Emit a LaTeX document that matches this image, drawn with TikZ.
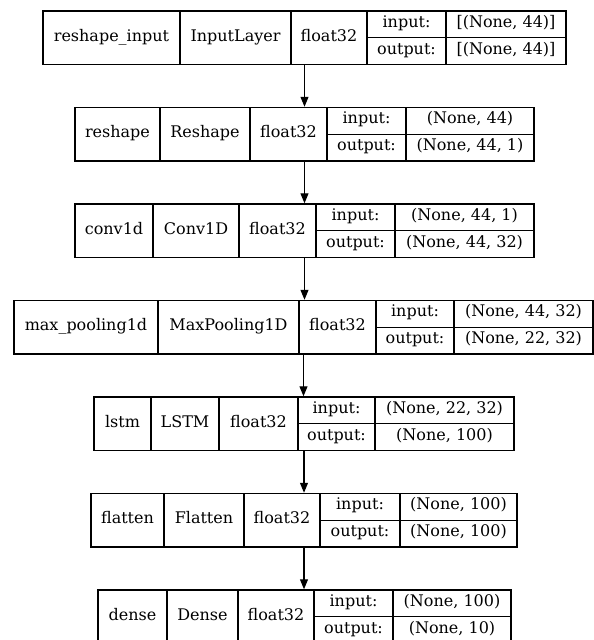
\documentclass[tikz,border=0pt]{standalone}
\usepackage{fontspec}
\setmainfont{DejaVu Serif}
\usetikzlibrary{arrows.meta,fit}

\begin{document}
\begin{tikzpicture}[
    x=1pt,y=-1pt,
    cell/.style={draw,line width=1.1pt,minimum height=53.5pt,inner sep=0pt,
      font=\fontsize{16}{19}\selectfont,text height=0.68em,text depth=0pt},
    half/.style={cell,minimum height=26.75pt,text height=0.6em},
    arrow/.style={-{Triangle[length=10pt,width=8pt]},line width=1.1pt}
  ]
    \clip (0,0) rectangle (594,640);
    % one record per layer: name | type | dtype | {input:|output:} | {shapes}
    \foreach \k/\a/\b/\c/\d/\e/\f/\nm/\ty/\vi/\vo in {
        {1/43/180/291/367/446/566/reshape\_input/InputLayer/[(None, 44)]/[(None, 44)]},
        {2/75/160/250/327/406/534/reshape/Reshape/(None, 44)/(None, 44, 1)},
        {3/75/153/239/316/395/534/conv1d/Conv1D/(None, 44, 1)/(None, 44, 32)},
        {4/14/158/299/376/454/593/max\_pooling1d/MaxPooling1D/(None, 44, 32)/(None, 22, 32)},
        {5/94/151/219/298/375/514/lstm/LSTM/(None, 22, 32)/(None, 100)},
        {6/91/164/244/320/400/517/flatten/Flatten/(None, 100)/(None, 100)},
        {7/98/167/238/314/393/511/dense/Dense/(None, 100)/(None, 10)}}{
      \pgfmathsetmacro\y{11+96.5*(\k-1)}
      \node[cell,minimum width={(\b-\a)*1pt}] (nm\k) at ({(\a+\b)/2},{\y+26.75}) {\nm};
      \node[cell,minimum width={(\c-\b)*1pt}] (ty\k) at ({(\b+\c)/2},{\y+26.75}) {\ty};
      \node[cell,minimum width={(\d-\c)*1pt}] (dt\k) at ({(\c+\d)/2},{\y+26.75}) {float32};
      \node[half,minimum width={(\e-\d)*1pt}] (in\k) at ({(\d+\e)/2},{\y+13.375}) {input:};
      \node[half,minimum width={(\e-\d)*1pt}] (ot\k) at ({(\d+\e)/2},{\y+40.125}) {output:};
      \node[half,minimum width={(\f-\e)*1pt}] (vi\k) at ({(\e+\f)/2},{\y+13.375}) {\vi};
      \node[half,minimum width={(\f-\e)*1pt}] (vo\k) at ({(\e+\f)/2},{\y+40.125}) {\vo};
      \node[fit=(nm\k)(vo\k),inner sep=0pt] (L\k) {};
    }
    \foreach \a/\b in {1/2,2/3,3/4,4/5,5/6,6/7}
      \draw[arrow] (L\a.south) -- (L\a.south |- L\b.north);
\end{tikzpicture}
\end{document}
